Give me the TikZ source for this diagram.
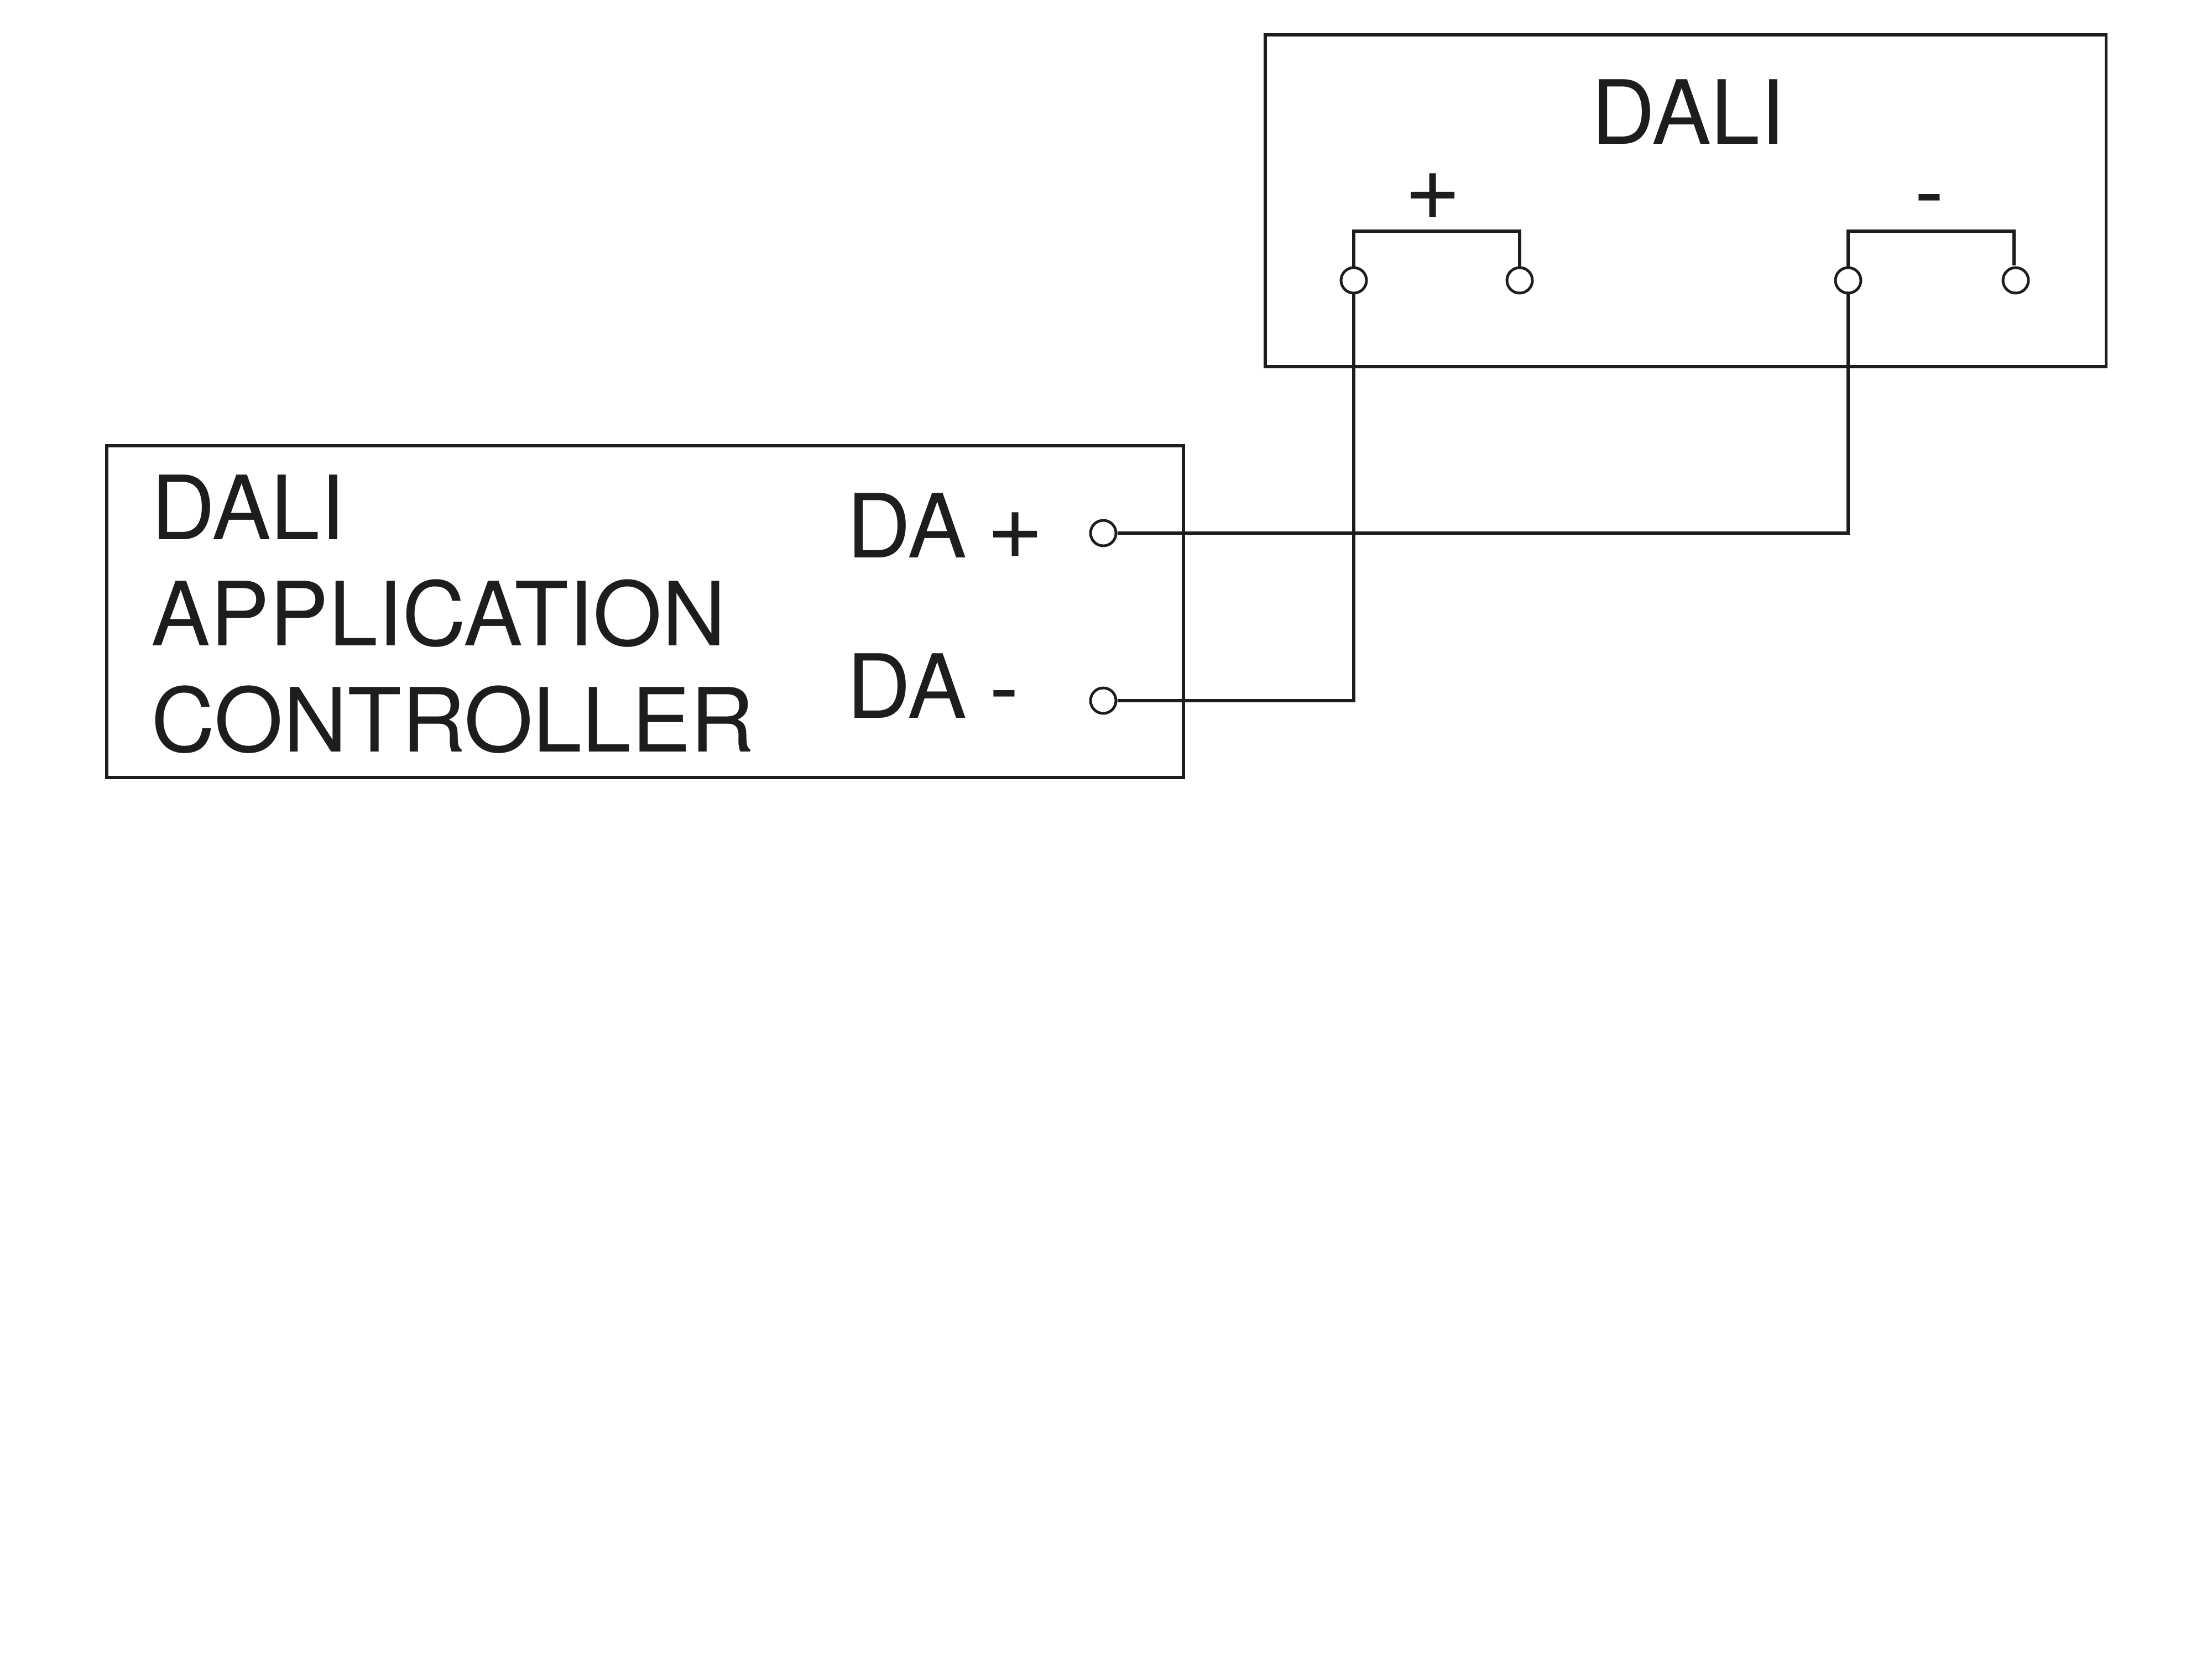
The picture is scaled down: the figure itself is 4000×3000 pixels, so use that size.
\documentclass[tikz,border=0pt]{standalone}
\usepackage{fontspec}
\setmainfont{TeX Gyre Heros}
\definecolor{ink}{HTML}{1D1D1B}
\newcommand{\bigplus}{{\fontsize{50.2pt}{54.6pt}\selectfont +}}
\tikzset{
  unit/.style={draw=ink,line width=1.7pt,inner sep=0pt,rectangle},
  terminal/.style={draw=ink,line width=1.4pt,fill=white,circle,inner sep=0pt,minimum size=0.46cm},
  wire/.style={draw=ink,line width=1.7pt,line join=miter},
  label/.style={text=ink,inner sep=0pt,anchor=base west,font=\fontsize{45.55pt}{54.6pt}\selectfont},
  block/.style={text=ink,inner sep=0pt,anchor=north west,align=left,font=\fontsize{45.55pt}{54.6pt}\selectfont}
}
\begin{document}
\begin{tikzpicture}[x=0.01cm,y=-0.01cm]
\path[use as bounding box,fill=white] (0,0) rectangle (4000,3000);
% units
\node[unit,minimum width=15.2cm,minimum height=6.0cm] (bus) at (3048,363) {};
\node[unit,minimum width=19.46cm,minimum height=5.99cm] (ctrl) at (1166.5,1106) {};
% terminals
\node[terminal] (p1) at (2448,507) {};
\node[terminal] (p2) at (2748,507) {};
\node[terminal] (n1) at (3342,507) {};
\node[terminal] (n2) at (3645,507) {};
\node[terminal] (dap) at (1995,964) {};
\node[terminal] (dan) at (1995,1267) {};
\coordinate (pb) at (2448,418);
\coordinate (nb) at (3342,418);
\coordinate (n2t) at (3642,480);
% links
\draw[wire] (p1.north) -- (pb) -| (p2.north);
\draw[wire] (n1.north) -- (nb) -| (n2t);
\draw[wire] (dap.east) -| (n1.south);
\draw[wire] (dan.east) -| (p1.south);
% labels
\node[label] (title) at (2877,260) {DALI};
\node[label] (plus) at (2539,397) {\bigplus};
\node[label] (minus) at (3462,401) {-};
\node[block] (name) at (273,858) {DALI\\APPLICATION\\CONTROLLER};
\node[label] (dplus) at (1531,1008) {DA\hspace{-2.2pt} \raisebox{-0.8pt}{\bigplus}};
\node[label] (dminus) at (1531,1298) {DA\hspace{-0.9pt} -};
\end{tikzpicture}
\end{document}
